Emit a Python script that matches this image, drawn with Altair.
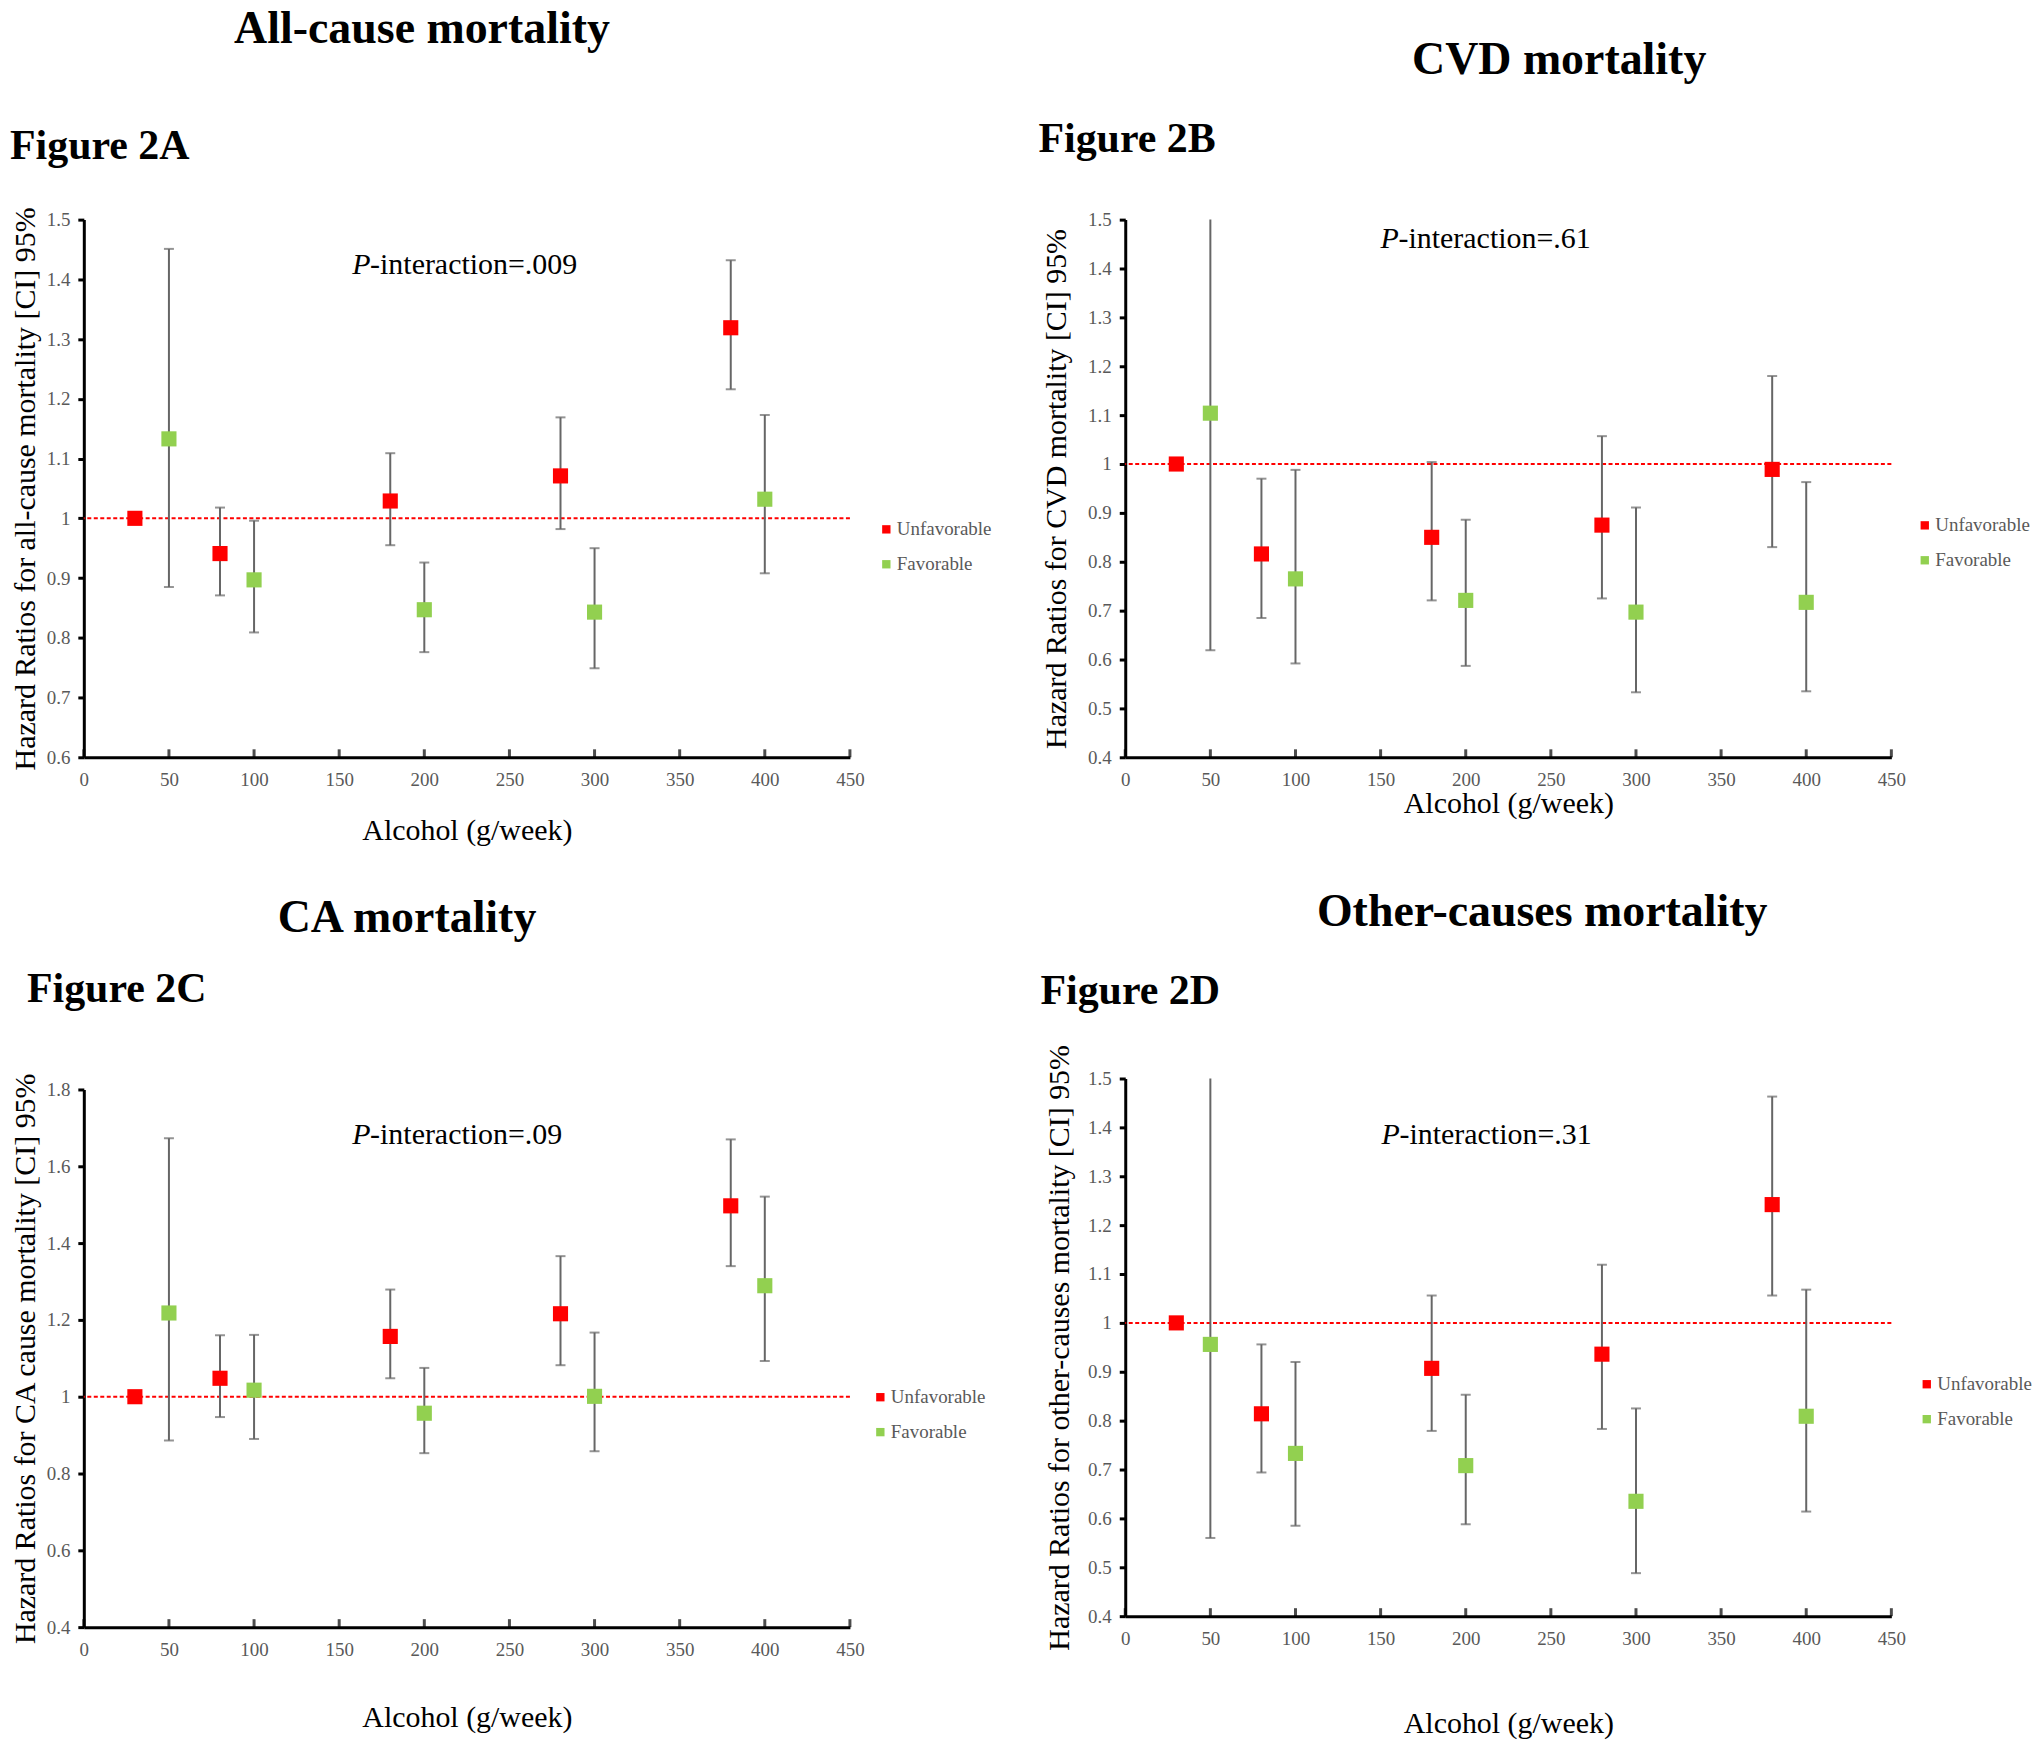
import altair as alt
import pandas as pd

FONT = "Liberation Serif"
RED = "#FF0000"
GREEN = "#92D050"
BAR_GRAY = "#666666"
LABEL_GRAY = "#595959"

# ---------------- data ----------------
groups = ["Unfavorable", "Favorable"]
alcohol_unfavorable = [30, 80, 180, 280, 380]
alcohol_favorable = [50, 100, 200, 300, 400]
x_ticks = [0, 50, 100, 150, 200, 250, 300, 350, 400, 450]
reference_hr = [1.0]

# Figure 2A  All-cause mortality
a_unf_hr = [1.000, 0.941, 1.029, 1.071, 1.319]
a_unf_lo = [None, 0.871, 0.955, 0.982, 1.216]
a_unf_hi = [None, 1.018, 1.109, 1.169, 1.432]
a_fav_hr = [1.133, 0.897, 0.847, 0.843, 1.032]
a_fav_lo = [0.885, 0.809, 0.776, 0.749, 0.908]
a_fav_hi = [1.451, 0.996, 0.926, 0.950, 1.173]
a_y_ticks = [0.6, 0.7, 0.8, 0.9, 1.0, 1.1, 1.2, 1.3, 1.4, 1.5]

# Figure 2B  CVD mortality
b_unf_hr = [1.000, 0.816, 0.850, 0.875, 0.989]
b_unf_lo = [None, 0.685, 0.721, 0.725, 0.830]
b_unf_hi = [None, 0.970, 1.004, 1.057, 1.180]
b_fav_hr = [1.104, 0.765, 0.721, 0.697, 0.717]
b_fav_lo = [0.619, 0.592, 0.587, 0.533, 0.535]
b_fav_hi = [1.500, 0.988, 0.886, 0.911, 0.963]
b_y_ticks = [0.4, 0.5, 0.6, 0.7, 0.8, 0.9, 1.0, 1.1, 1.2, 1.3, 1.4, 1.5]

# Figure 2C  CA mortality
c_unf_hr = [1.000, 1.048, 1.157, 1.216, 1.497]
c_unf_lo = [None, 0.947, 1.048, 1.082, 1.340]
c_unf_hi = [None, 1.160, 1.279, 1.366, 1.670]
c_fav_hr = [1.218, 1.017, 0.957, 1.001, 1.289]
c_fav_lo = [0.886, 0.890, 0.853, 0.858, 1.093]
c_fav_hi = [1.673, 1.161, 1.075, 1.167, 1.521]
c_y_ticks = [0.4, 0.6, 0.8, 1.0, 1.2, 1.4, 1.6, 1.8]

# Figure 2D  Other-causes mortality
d_unf_hr = [1.000, 0.814, 0.907, 0.936, 1.242]
d_unf_lo = [None, 0.694, 0.779, 0.783, 1.056]
d_unf_hi = [None, 0.956, 1.056, 1.119, 1.463]
d_fav_hr = [0.956, 0.733, 0.708, 0.635, 0.809]
d_fav_lo = [0.560, 0.585, 0.588, 0.488, 0.614]
d_fav_hi = [1.500, 0.920, 0.853, 0.825, 1.068]
d_y_ticks = [0.4, 0.5, 0.6, 0.7, 0.8, 0.9, 1.0, 1.1, 1.2, 1.3, 1.4, 1.5]

titles = ["All-cause mortality", "CVD mortality", "CA mortality", "Other-causes mortality"]
figure_labels = ["Figure 2A", "Figure 2B", "Figure 2C", "Figure 2D"]
y_titles = [
    "Hazard Ratios for all-cause mortality [CI] 95%",
    "Hazard Ratios for CVD mortality [CI] 95%",
    "Hazard Ratios for CA cause mortality [CI] 95%",
    "Hazard Ratios for other-causes  mortality [CI] 95%",
]
p_values = ["-interaction=.009", "-interaction=.61", "-interaction=.09", "-interaction=.31"]
x_title = "Alcohol (g/week)"

W, H = 768, 539

# layout (pixel offsets relative to each plot area)
layout = {
    "A": dict(title=(339, -191), fig=(-74, -74), p=(269, 46), leg=(795, 301), ytx=-58, xty=73),
    "B": dict(title=(435, -160), fig=(-87, -81), p=(256, 19), leg=(792, 297), ytx=-69, xty=46),
    "C": dict(title=(324, -172), fig=(-57, -101), p=(269, 46), leg=(789, 299), ytx=-58, xty=91),
    "D": dict(title=(418, -167), fig=(-85, -88), p=(257, 57), leg=(794, 297), ytx=-66, xty=108),
}


def make_df(unf_hr, unf_lo, unf_hi, fav_hr, fav_lo, fav_hi):
    rows = []
    for x, h, l, u in zip(alcohol_unfavorable, unf_hr, unf_lo, unf_hi):
        rows.append({"alcohol": x, "hr": h, "lo": l, "hi": u, "group": groups[0]})
    for x, h, l, u in zip(alcohol_favorable, fav_hr, fav_lo, fav_hi):
        rows.append({"alcohol": x, "hr": h, "lo": l, "hi": u, "group": groups[1]})
    return pd.DataFrame(rows)


def text_layer(txt, x, y, size, weight="normal", style="normal", align="left", color="black"):
    return alt.Chart(pd.DataFrame({"t": [txt]})).mark_text(
        font=FONT, fontSize=size, fontWeight=weight, fontStyle=style,
        align=align, baseline="middle", color=color,
    ).encode(x=alt.value(x), y=alt.value(y), text="t:N")


def panel(key, idx, df, y_ticks):
    L = layout[key]
    ymin, ymax = y_ticks[0], y_ticks[-1]
    xs = alt.Scale(domain=[0, 450], nice=False, zero=False)
    ys = alt.Scale(domain=[ymin, ymax], nice=False, zero=False)
    xax = alt.Axis(values=x_ticks, title=x_title, labelFlush=False, labelOverlap=False,
                   tickSize=0, labelPadding=13,
                   titleX=W / 2, titleY=L["xty"], titleAlign="center", titleBaseline="middle")
    yax = alt.Axis(values=y_ticks, labelExpr="format(datum.value, '.1~f')", title=y_titles[idx],
                   labelFlush=False, labelOverlap=False, tickSize=6, labelPadding=8,
                   titleX=L["ytx"], titleY=H / 2, titleAngle=270, titleAlign="center",
                   titleBaseline="middle")
    X = alt.X("alcohol:Q", scale=xs, axis=xax)

    ref = alt.Chart(pd.DataFrame({"ref": reference_hr})).mark_rule(
        color=RED, strokeDash=[4, 2.5], strokeWidth=2
    ).encode(y=alt.Y("ref:Q", scale=ys, axis=yax))

    # inward tick marks on the x axis (as in the original, ticks point into the plot)
    xt = alt.Chart(pd.DataFrame({"xt": x_ticks, "base": [ymin] * len(x_ticks)})).mark_tick(
        orient="vertical", size=8, thickness=3, color="black", yOffset=-4
    ).encode(x=alt.X("xt:Q", scale=xs, axis=xax), y=alt.Y("base:Q", scale=ys, axis=yax))

    base = alt.Chart(df)
    bars = base.transform_filter("isValid(datum.lo)").mark_rule(
        color=BAR_GRAY, strokeWidth=2
    ).encode(x=X, y=alt.Y("lo:Q", scale=ys, axis=yax), y2="hi:Q")
    cap_lo = base.transform_filter("isValid(datum.lo)").mark_tick(
        orient="horizontal", size=10, thickness=2, color=BAR_GRAY
    ).encode(x=X, y=alt.Y("lo:Q", scale=ys, axis=yax))
    cap_hi = base.transform_filter(f"isValid(datum.hi) && datum.hi < {ymax}").mark_tick(
        orient="horizontal", size=10, thickness=2, color=BAR_GRAY
    ).encode(x=X, y=alt.Y("hi:Q", scale=ys, axis=yax))
    pts = base.mark_square(size=230, opacity=1, filled=True).encode(
        x=X,
        y=alt.Y("hr:Q", scale=ys, axis=yax),
        color=alt.Color(
            "group:N",
            scale=alt.Scale(domain=groups, range=[RED, GREEN]),
            legend=alt.Legend(
                title=None, orient="none", legendX=L["leg"][0], legendY=L["leg"][1],
                symbolType="square", symbolSize=70, symbolStrokeWidth=0,
                labelFont=FONT, labelFontSize=19, labelColor=LABEL_GRAY,
                labelOffset=1, rowPadding=15, padding=0,
            ),
        ),
    )

    t_title = text_layer(titles[idx], L["title"][0], L["title"][1], 46, weight="bold", align="center")
    t_fig = text_layer(figure_labels[idx], L["fig"][0], L["fig"][1], 42, weight="bold")
    t_p = text_layer("P", L["p"][0], L["p"][1], 30, style="italic")
    t_p2 = text_layer(p_values[idx], L["p"][0] + 18, L["p"][1], 30)

    return alt.layer(ref, xt, bars, cap_lo, cap_hi, pts, t_title, t_fig, t_p, t_p2).properties(
        width=W, height=H
    )


pA = panel("A", 0, make_df(a_unf_hr, a_unf_lo, a_unf_hi, a_fav_hr, a_fav_lo, a_fav_hi), a_y_ticks)
pB = panel("B", 1, make_df(b_unf_hr, b_unf_lo, b_unf_hi, b_fav_hr, b_fav_lo, b_fav_hi), b_y_ticks)
pC = panel("C", 2, make_df(c_unf_hr, c_unf_lo, c_unf_hi, c_fav_hr, c_fav_lo, c_fav_hi), c_y_ticks)
pD = panel("D", 3, make_df(d_unf_hr, d_unf_lo, d_unf_hi, d_fav_hr, d_fav_lo, d_fav_hi), d_y_ticks)


def indep(c):
    return c.resolve_scale(x="independent", y="independent", color="independent").resolve_legend(
        color="independent"
    )


col1 = indep(alt.vconcat(pA, pC, spacing=333, bounds="flush"))
col2 = indep(alt.vconcat(pB, pD, spacing=322, bounds="flush"))
chart = indep(alt.hconcat(col1, col2, spacing=47, bounds="full"))

chart = (
    chart.properties(padding={"left": 2, "top": -4, "right": 0, "bottom": 0}, background="white")
    .configure(font=FONT)
    .configure_view(stroke=None)
    .configure_axis(
        grid=False,
        labelFont=FONT, labelFontSize=19, labelColor=LABEL_GRAY,
        tickColor="black", tickWidth=3,
        domainColor="black", domainWidth=3,
        titleFont=FONT, titleFontSize=30, titleFontWeight="normal", titleColor="black",
    )
)

chart.save("out.html", embed_options={"renderer": "svg", "actions": False})
